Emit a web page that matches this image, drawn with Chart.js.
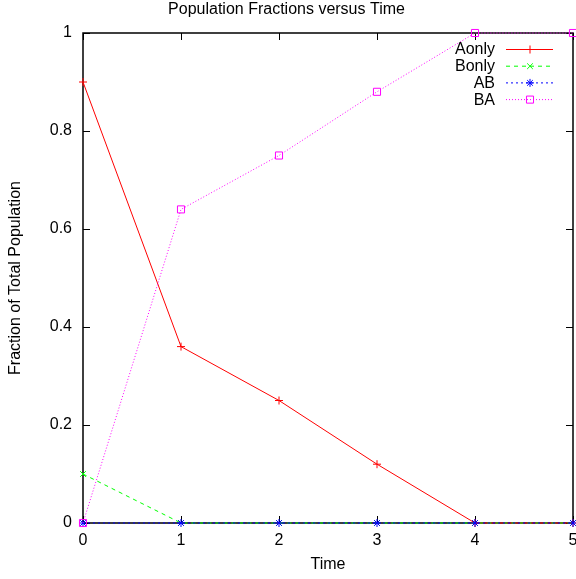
<!DOCTYPE html>
<html>
<head>
<meta charset="utf-8">
<script src="https://cdn.jsdelivr.net/npm/chart.js@4.4.0/dist/chart.umd.min.js"></script>
<style>
  html, body { margin: 0; padding: 0; background: #fff; }
  #wrap { width: 576px; height: 579px; }
</style>
</head>
<body>
<div id="wrap"><canvas id="pop-chart" width="576" height="579"></canvas></div>
<script>
const times = [0, 1, 2, 3, 4, 5];
const aOnly = [0.9, 0.36, 0.25, 0.12, 0, 0];
const bOnly = [0.1, 0, 0, 0, 0, 0];
const abVals = [0, 0, 0, 0, 0, 0];
const baVals = [0, 0.64, 0.75, 0.88, 1, 1];
const seriesNames = ['Aonly', 'Bonly', 'AB', 'BA'];

const FONT = '"Liberation Sans", Arial, sans-serif';

function toPoints(vals) {
    return times.map((t, i) => ({ x: t, y: vals[i] }));
}

// legend drawn by hand, gnuplot style: text right-aligned, sample to the right
const gnuLegend = {
    id: 'gnuLegend',
    afterDatasetsDraw(chart) {
        const ctx = chart.ctx;
        ctx.save();
        ctx.font = '16px ' + FONT;
        ctx.textAlign = 'right';
        ctx.textBaseline = 'middle';
        chart.data.datasets.forEach((ds, i) => {
            const y = 49 + i * 16.7;
            ctx.fillStyle = '#000';
            ctx.fillText(ds.label, 495, y + 1);
            ctx.strokeStyle = ds.borderColor;
            ctx.lineWidth = 1;
            ctx.setLineDash(ds.borderDash || []);
            ctx.beginPath();
            ctx.moveTo(506, y + 0.5);
            ctx.lineTo(553, y + 0.5);
            ctx.stroke();
            ctx.setLineDash([]);
            ctx.fillStyle = 'rgba(0,0,0,0)';
            Chart.helpers.drawPoint(ctx, {
                pointStyle: ds.pointStyle,
                radius: ds.pointRadius,
                rotation: 0,
                borderWidth: 1
            }, 530, y + 0.5);
        });
        ctx.restore();
    }
};

// box border + inward ticks on all four sides
const gnuFrame = {
    id: 'gnuFrame',
    beforeDatasetsDraw(chart) {
        const ctx = chart.ctx;
        const a = chart.chartArea;
        const xs = chart.scales.x, ys = chart.scales.y;
        ctx.save();
        ctx.strokeStyle = '#000';
        ctx.lineWidth = 1.5;
        ctx.strokeRect(a.left, a.top, a.right - a.left, a.bottom - a.top);
        ctx.lineWidth = 1;
        ctx.beginPath();
        xs.ticks.forEach(t => {
            const px = Math.round(xs.getPixelForValue(t.value)) + 0.5;
            ctx.moveTo(px, a.bottom); ctx.lineTo(px, a.bottom - 7);
            ctx.moveTo(px, a.top); ctx.lineTo(px, a.top + 7);
        });
        ys.ticks.forEach(t => {
            const py = Math.round(ys.getPixelForValue(t.value)) + 0.5;
            ctx.moveTo(a.left, py); ctx.lineTo(a.left + 7, py);
            ctx.moveTo(a.right, py); ctx.lineTo(a.right - 7, py);
        });
        ctx.stroke();
        ctx.restore();
    }
};

const popContext = document.getElementById('pop-chart').getContext('2d');

const popChart = new Chart(popContext, {
    type: 'line',
    data: {
        datasets: [{
            label: seriesNames[0],
            data: toPoints(aOnly),
            borderColor: '#ff0000',
            pointStyle: 'cross',
            pointRadius: 4,
            order: 4
        }, {
            label: seriesNames[1],
            data: toPoints(bOnly),
            borderColor: '#00ff00',
            borderDash: [4, 4],
            pointStyle: 'crossRot',
            pointRadius: 4,
            order: 3
        }, {
            label: seriesNames[2],
            data: toPoints(abVals),
            borderColor: '#0000ff',
            borderDash: [2, 3],
            pointStyle: 'star',
            pointRadius: 4,
            order: 2
        }, {
            label: seriesNames[3],
            data: toPoints(baVals),
            borderColor: '#ff00ff',
            borderDash: [1, 2],
            pointStyle: 'rect',
            pointRadius: 5,
            order: 1
        }].map(ds => Object.assign(ds, {
            borderWidth: 1,
            pointBorderWidth: 1,
            pointBorderColor: ds.borderColor,
            pointBackgroundColor: 'rgba(0,0,0,0)',
            tension: 0,
            clip: false
        }))
    },
    options: {
        responsive: false,
        animation: false,
        events: [],
        layout: { autoPadding: false, padding: { left: 0, right: 3, top: 0, bottom: 0 } },
        plugins: {
            legend: { display: false },
            tooltip: { enabled: false },
            title: {
                display: true,
                text: 'Population Fractions versus Time',
                color: '#000',
                font: { family: FONT, size: 16, weight: 'normal', lineHeight: 1.2 },
                padding: { top: 0, bottom: 13.8 }
            }
        },
        scales: {
            x: {
                type: 'linear',
                min: 0,
                max: 5,
                ticks: {
                    stepSize: 1,
                    color: '#000',
                    padding: 8,
                    font: { family: FONT, size: 16 }
                },
                grid: { display: false, drawTicks: false },
                border: { display: false },
                title: {
                    display: true,
                    text: 'Time',
                    color: '#000',
                    font: { family: FONT, size: 16 },
                    padding: { top: 0, bottom: 4.4 }
                },
                afterFit(scale) {
                    scale.height = 56;
                    scale.paddingLeft = 0;
                    scale.paddingRight = 0;
                }
            },
            y: {
                min: 0,
                max: 1,
                ticks: {
                    stepSize: 0.2,
                    color: '#000',
                    padding: 11,
                    font: { family: FONT, size: 16 },
                    callback: v => String(+v.toFixed(1))
                },
                grid: { display: false, drawTicks: false },
                border: { display: false },
                title: {
                    display: true,
                    text: 'Fraction of Total Population',
                    color: '#000',
                    font: { family: FONT, size: 16 },
                    padding: { top: 5.5, bottom: 0 }
                },
                afterFit(scale) {
                    scale.width = 83;
                    scale.paddingTop = 0;
                    scale.paddingBottom = 0;
                }
            }
        }
    },
    plugins: [gnuFrame, gnuLegend]
});
</script>
</body>
</html>
